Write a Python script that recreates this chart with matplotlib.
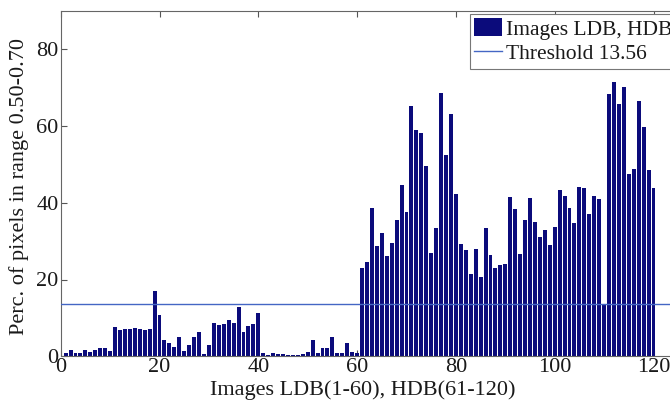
import matplotlib
matplotlib.use("Agg")
import matplotlib.pyplot as plt
import numpy as np

# Image index 1..120 (LDB 1-60, HDB 61-120)
images = list(range(1, 121))
ldb_values = [
    0.85, 1.6, 0.85, 0.85, 1.6, 1.2, 1.7, 2.2, 2.1, 1.3,
    7.6, 6.9, 7.2, 7.2, 7.5, 7.0, 6.8, 7.0, 17.1, 10.7,
    4.2, 3.4, 2.3, 5.0, 1.4, 2.9, 5.0, 6.4, 0.6, 2.9,
    8.8, 8.2, 8.4, 9.5, 8.8, 12.8, 6.2, 8.0, 8.4, 11.3,
    0.9, 0.3, 0.9, 0.5, 0.5, 0.4, 0.3, 0.4, 0.7, 1.2,
    4.3, 0.8, 2.2, 2.1, 5.1, 0.8, 0.8, 3.5, 1.0, 0.8,
]
hdb_values = [
    23.1, 24.6, 38.5, 28.7, 32.2, 26.2, 29.4, 35.4, 44.6, 37.5,
    65.3, 58.9, 58.1, 49.6, 26.8, 33.3, 68.6, 52.4, 63.0, 42.3,
    29.2, 27.7, 21.4, 27.9, 20.6, 33.3, 26.5, 22.9, 23.8, 24.0,
    41.6, 38.3, 26.6, 35.4, 41.1, 34.9, 31.0, 32.9, 29.0, 33.7,
    43.2, 41.7, 38.6, 34.6, 44.2, 43.9, 37.0, 41.8, 41.0, 13.4,
    68.3, 71.5, 65.6, 70.1, 47.4, 48.8, 66.5, 59.7, 48.6, 43.8,
]
values = ldb_values + hdb_values
threshold = 13.56
x_ticks = [0, 20, 40, 60, 80, 100, 120]
y_ticks = [0, 20, 40, 60, 80]

W, H = 670, 408
fig = plt.figure(figsize=(W / 100, H / 100), dpi=100)
plt.rcParams['font.family'] = ['Liberation Serif', 'DejaVu Serif']

FS = 16
xmax = 125
px_per_unit = 4.94
left_px, bottom_px, top_px = 60.7, 356.3, 10.7
ax_h_px = bottom_px - top_px
ax = fig.add_axes([left_px / W, (H - bottom_px) / H,
                   xmax * px_per_unit / W, ax_h_px / H])

bar_color = '#0b0b7b'
bars = ax.bar(images, values, width=0.8, color=bar_color, edgecolor='none',
              label='Images LDB, HDB', zorder=2)
line = ax.axhline(threshold, color='#4466c4', lw=1.0, label='Threshold 13.56', zorder=3)

ax.set_xlim(0, xmax)
ax.set_ylim(0, 90)
ax.set_xticks(x_ticks)
ax.set_yticks(y_ticks)
ax.tick_params(direction='in', length=4.5, width=0.8, colors='#555555',
               labelcolor='#1a1a1a', labelsize=FS, pad=1.5,
               top=True, right=True)
for s in ax.spines.values():
    s.set_color('#666666')
    s.set_linewidth(0.8)

ax.set_xlabel('Images LDB(1-60), HDB(61-120)', fontsize=FS, color='#1a1a1a')
ax.xaxis.set_label_coords((363 - left_px) / (xmax * px_per_unit),
                          (bottom_px - 380.5) / ax_h_px, transform=ax.transAxes)
ax.set_ylabel('Perc. of pixels in range 0.50-0.70', fontsize=FS, color='#1a1a1a')
ax.yaxis.set_label_coords(-(left_px - 9) / (xmax * px_per_unit), 0.49,
                          transform=ax.transAxes)
ax.yaxis.label.set_va('top')

leg = ax.legend(handles=[bars, line], loc='upper left',
                bbox_to_anchor=(470 / W, 1 - 14 / H),
                bbox_transform=fig.transFigure, fontsize=15.5,
                frameon=True, fancybox=False, framealpha=1,
                edgecolor='#777777', borderpad=0.2, labelspacing=0.15,
                handlelength=1.3, handleheight=0.9, handletextpad=0.15,
                borderaxespad=0)
leg.get_frame().set_linewidth(0.8)
for t in leg.get_texts():
    t.set_color('#1a1a1a')

fig.savefig('out.png', dpi=100)
